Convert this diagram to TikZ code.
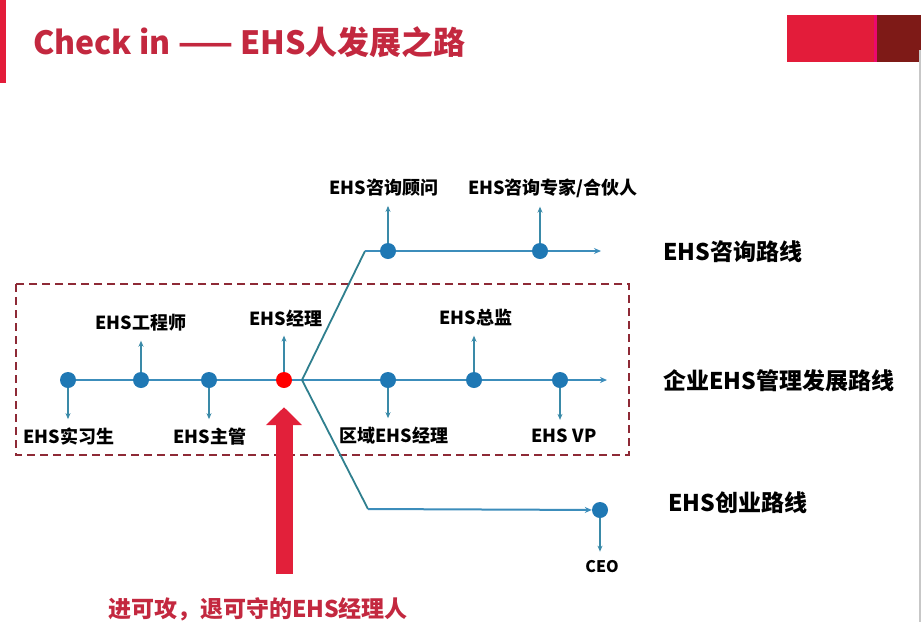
\documentclass[tikz,border=0pt]{standalone}
\usepackage{fontspec}
\setmainfont{Noto Sans CJK SC}
\usetikzlibrary{arrows.meta}
\definecolor{barred}{HTML}{E31C3A}
\definecolor{titlered}{HTML}{C3283F}
\definecolor{darkred}{HTML}{7E1A17}
\definecolor{boxred}{HTML}{8E2A36}
\definecolor{linkblue}{HTML}{3C8DBB}
\definecolor{forkteal}{HTML}{2F7F8E}
\definecolor{dotblue}{HTML}{1F78B4}
\definecolor{tickblue}{HTML}{3A8AA8}
\definecolor{bigred}{HTML}{E2203A}
\begin{document}
\begin{tikzpicture}[x=1pt,y=-1pt,
  dot/.style={circle,fill=dotblue,inner sep=0pt,minimum size=16pt},
  track/.style={linkblue,line width=2pt},
  forkline/.style={forkteal,line width=1.8pt},
  tick/.style={tickblue,line width=1.2pt,-{Stealth[length=6pt,width=5pt]},shorten >=7pt},
  rank/.style={font=\fontsize{18}{20}\selectfont\bfseries,inner sep=2pt},
  route/.style={font=\fontsize{23}{27}\selectfont\bfseries,anchor=west,inner sep=0pt}]
\useasboundingbox (0,0) rectangle (921,622);
\fill[white] (0,0) rectangle (921,622);

% header
\fill[barred] (0,0) rectangle (6,83);
\node[anchor=west,inner sep=0pt,text=titlered,font=\fontsize{32}{36}\selectfont\bfseries] (title) at (33,42) {Check in —— EHS人发展之路};
\fill[barred] (787,15) rectangle (874,62);
\fill[magenta!70!red] (874,15) rectangle (877,62);
\fill[darkred] (877,15) rectangle (921,62);
\draw[black!22,line width=1.5pt] (920,50) -- (920,622);

% dashed frame
\draw[boxred,line width=1.5pt,dash pattern=on 8pt off 5pt] (16,284) rectangle (629,455);

% stations
\node[dot] (intern) at (68,380) {};
\node[dot] (engineer) at (141,380) {};
\node[dot] (supervisor) at (209,380) {};
\node[dot,fill=red] (manager) at (284,380) {};
\coordinate (fork) at (302,380);
\node[dot] (regional) at (388,380) {};
\node[dot] (director) at (474,380) {};
\node[dot] (vp) at (560,380) {};
\coordinate (mainend) at (607,380);

\coordinate (upcorner) at (365,251);
\node[dot] (consultant) at (388,251) {};
\node[dot] (partner) at (540,251) {};
\coordinate (upend) at (601,251);

\coordinate (lowcorner) at (368,509);
\node[dot] (ceo) at (600,510) {};

% tracks
\draw[track] (intern) -- (engineer) -- (supervisor) -- (manager) -- (fork);
\draw[track,-{Stealth[length=7pt,width=6pt]}] (fork) -- (regional) -- (director) -- (vp) -- (mainend);
\draw[forkline] (fork) -- (upcorner);
\draw[track,-{Stealth[length=7pt,width=6pt]}] (upcorner) -- (consultant) -- (partner) -- (upend);
\draw[forkline] (fork) -- (lowcorner);
\draw[track,-{Stealth[length=7pt,width=6pt]}] (lowcorner) -- (ceo);

% titles
\node[rank] (lintern) at (69,437) {EHS实习生};
\node[rank] (lengineer) at (141,323) {EHS工程师};
\node[rank] (lsupervisor) at (210,437) {EHS主管};
\node[rank] (lmanager) at (286,318) {EHS经理};
\node[rank] (lregional) at (394,436) {区域EHS经理};
\node[rank] (ldirector) at (476,318) {EHS总监};
\node[rank] (lvp) at (564,436) {EHS VP};
\node[rank] (lconsultant) at (384,188) {EHS咨询顾问};
\node[rank] (lpartner) at (553,188) {EHS咨询专家/合伙人};
\node[rank,font=\fontsize{16}{18}\selectfont\bfseries] (lceo) at (602,567) {CEO};

\draw[tick] (intern) -- (intern |- lintern.north);
\draw[tick] (engineer) -- (engineer |- lengineer.south);
\draw[tick] (supervisor) -- (supervisor |- lsupervisor.north);
\draw[tick] (manager) -- (manager |- lmanager.south);
\draw[tick] (regional) -- (regional |- lregional.north);
\draw[tick] (director) -- (director |- ldirector.south);
\draw[tick] (vp) -- (vp |- lvp.north);
\draw[tick] (consultant) -- (consultant |- lconsultant.south);
\draw[tick] (partner) -- (partner |- lpartner.south);
\draw[tick] (ceo) -- (ceo |- lceo.north);

% routes
\node[route] (rconsult) at (663,252) {EHS咨询路线};
\node[route] (rcorp) at (663,381) {企业EHS管理发展路线};
\node[route] (rstart) at (668,503) {EHS创业路线};

% big arrow
\coordinate (arrowfoot) at (284,574);
\draw[bigred,line width=17pt,-{Triangle[length=18pt,width=35pt]},shorten >=19pt] (arrowfoot) -- (manager);
\node[text=titlered,font=\fontsize{23}{26}\selectfont\bfseries,inner sep=0pt] (motto) at (258,609) {进可攻，退可守的EHS经理人};
\end{tikzpicture}
\end{document}
